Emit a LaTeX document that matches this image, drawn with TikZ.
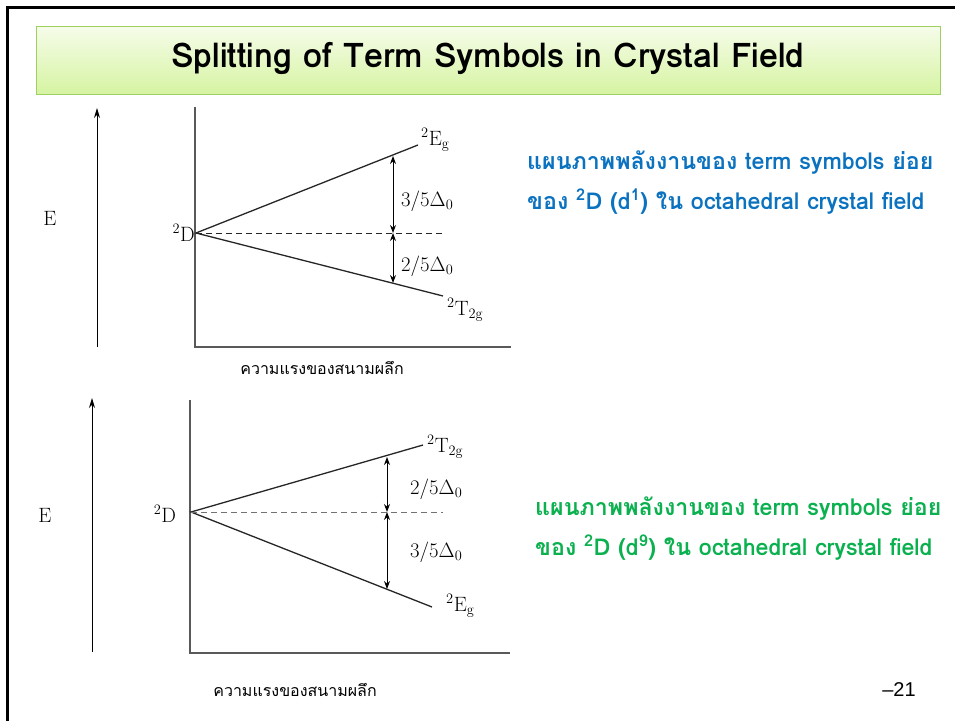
\documentclass[tikz,border=0pt]{standalone}
\usepackage{fontspec}
\newfontfamily\thaifont[Script=Thai]{Loma}
\newfontfamily\pagefont{Liberation Sans}
\usetikzlibrary{arrows.meta}
\definecolor{titletop}{HTML}{F6FCEA}
\definecolor{titlebot}{HTML}{D6F4A2}
\definecolor{titleline}{HTML}{9DCF63}
\definecolor{noteblue}{HTML}{0B72C0}
\definecolor{notegreen}{HTML}{0BB04F}
\tikzset{
  axis/.style={draw=black!65,line width=1.6pt},
  level/.style={draw=black!85,line width=1.3pt},
  base/.style={draw=black!85,line width=0.9pt,dash pattern=on 6pt off 4pt},
  energy/.style={-{Stealth[length=10pt,width=6pt]},line width=1pt},
  gap/.style={{Stealth[length=8pt,width=6pt]}-{Stealth[length=8pt,width=6pt]},line width=1pt},
  lbl/.style={font=\fontsize{20.74}{22}\selectfont},
  thai/.style={font=\thaifont\fontsize{16}{18}\selectfont},
  note/.style={font=\thaifont\bfseries\fontsize{23.2}{40}\selectfont,align=left,anchor=west}
}
\begin{document}
\begin{tikzpicture}[x=1pt,y=-1pt,every node/.style={inner sep=1pt}]
\useasboundingbox (0,0) rectangle (955,720);
\fill[white] (0,0) rectangle (955,720);
% slide frame and title bar
\coordinate (fbl) at (7,724);
\coordinate (ftl) at (7,7);
\coordinate (ftr) at (959,7);
\draw[line width=3pt] (fbl) -- (ftl) -- (ftr);
\shade[top color=titletop,bottom color=titlebot,draw=titleline,line width=1pt] (36,26) rectangle (940,94);
\node[font=\thaifont\bfseries\fontsize{34}{36}\selectfont] (title) at (488,58) {Splitting of Term Symbols in Crystal Field};

% upper diagram, d1
\coordinate (e1lo) at (97,347);
\coordinate (e1hi) at (97,108);
\draw[energy] (e1lo) -- (e1hi);
\node[lbl] (E1) at (50,218) {E};
\coordinate (ax1top) at (195,107);
\coordinate (ax1org) at (195,347);
\coordinate (ax1end) at (511,347);
\draw[axis] (ax1top) -- (ax1org) -- (ax1end);
\node[thai] (field1) at (322,368) {ความแรงของสนามผลึก};
\coordinate (D1) at (196,233);
\coordinate (Eg1) at (418,145);
\coordinate (T1) at (443,296);
\coordinate (mid1) at (443,233);
\draw[level] (Eg1) -- (D1) -- (T1);
\draw[base] (D1) -- (mid1);
\coordinate (a1top) at (393,156);
\coordinate (a1mid) at (393,233);
\coordinate (a1bot) at (393,283);
\draw[gap] (a1top) -- (a1mid);
\draw[gap] (a1mid) -- (a1bot);
\node[lbl,anchor=east] (lD1) at (D1) {${}^{2}$D};
\node[lbl,anchor=west] (lEg1) at (420,140) {${}^{2}$E$_{\mathrm{g}}$};
\node[lbl,anchor=west] (lT1) at (446,310) {${}^{2}$T$_{\mathrm{2g}}$};
\node[lbl,anchor=west] (l35a) at (400,201) {$3/5\Delta_{0}$};
\node[lbl,anchor=west] (l25a) at (400,266) {$2/5\Delta_{0}$};
\node[note,text=noteblue] (note1) at (526,183) {แผนภาพพลังงานของ term symbols ย่อย\\ของ \textsuperscript{2}D (d\textsuperscript{1}) ใน octahedral crystal field};

% lower diagram, d9
\coordinate (e2lo) at (92,652);
\coordinate (e2hi) at (92,398);
\draw[energy] (e2lo) -- (e2hi);
\node[lbl] (E2) at (45,515) {E};
\coordinate (ax2top) at (190,400);
\coordinate (ax2org) at (190,653);
\coordinate (ax2end) at (510,653);
\draw[axis] (ax2top) -- (ax2org) -- (ax2end);
\node[thai] (field2) at (295,690) {ความแรงของสนามผลึก};
\coordinate (D2) at (191,512);
\coordinate (T2) at (423,445);
\coordinate (Eg2) at (432,607);
\coordinate (mid2) at (443,512);
\draw[level] (T2) -- (D2) -- (Eg2);
\draw[base,draw=black!55] (D2) -- (mid2);
\coordinate (a2top) at (387,457);
\coordinate (a2mid) at (387,512);
\coordinate (a2bot) at (387,589);
\draw[gap] (a2top) -- (a2mid);
\draw[gap] (a2mid) -- (a2bot);
\node[lbl] (lD2) at (165,514) {${}^{2}$D};
\node[lbl,anchor=west] (lT2) at (426,447) {${}^{2}$T$_{\mathrm{2g}}$};
\node[lbl,anchor=west] (lEg2) at (445,606) {${}^{2}$E$_{\mathrm{g}}$};
\node[lbl,anchor=west] (l25b) at (409,489) {$2/5\Delta_{0}$};
\node[lbl,anchor=west] (l35b) at (409,552) {$3/5\Delta_{0}$};
\node[note,text=notegreen] (note2) at (534,529) {แผนภาพพลังงานของ term symbols ย่อย\\ของ \textsuperscript{2}D (d\textsuperscript{9}) ใน octahedral crystal field};

\node[font=\pagefont\fontsize{20}{22}\selectfont] (page) at (899,690) {–21};
\end{tikzpicture}
\end{document}
